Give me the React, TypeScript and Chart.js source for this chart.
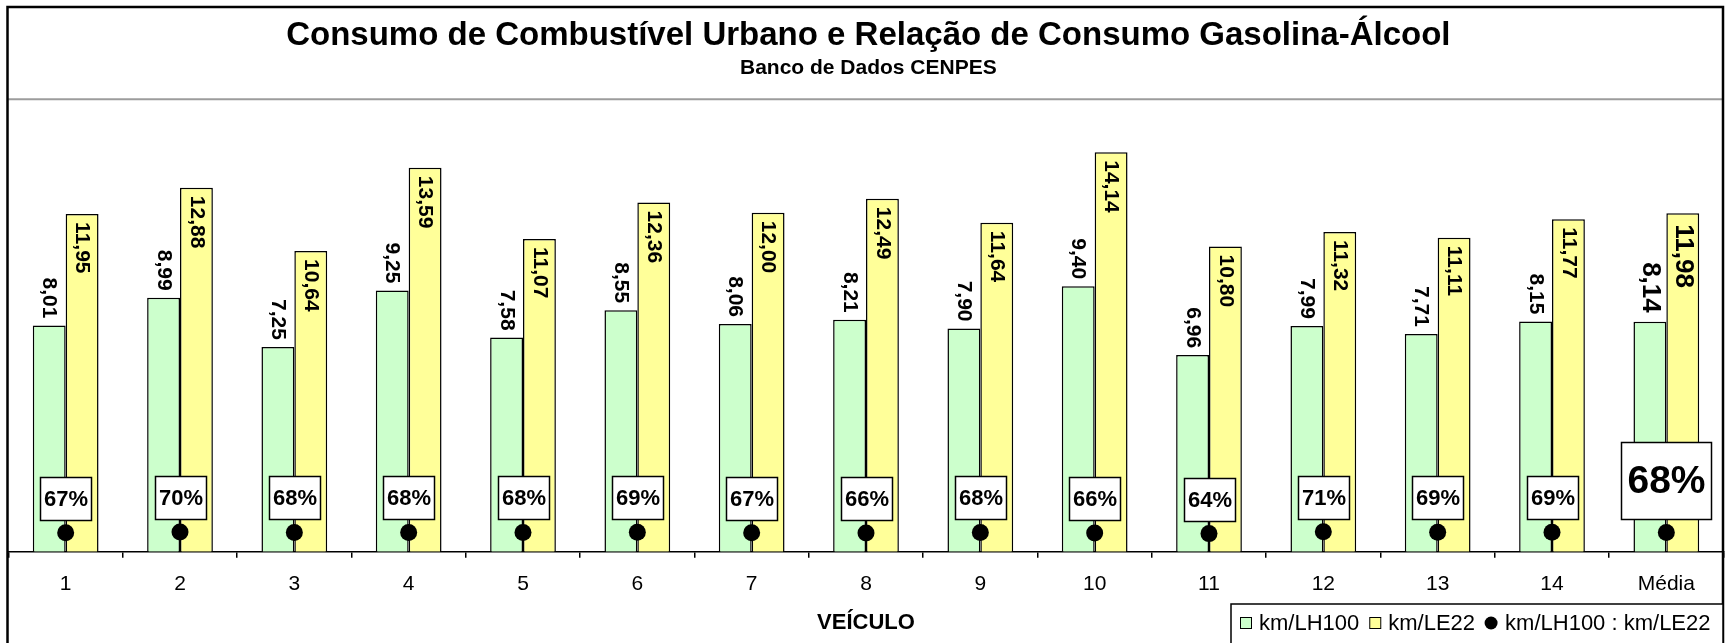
import { useEffect, useRef } from 'react';
import { Chart, registerables } from 'chart.js';

Chart.register(...registerables);

const FONT = "'Liberation Sans', Arial, sans-serif";

const categories = ['1', '2', '3', '4', '5', '6', '7', '8', '9', '10', '11', '12', '13', '14', 'Média'];
const kmLH100 = [8.01, 8.99, 7.25, 9.25, 7.58, 8.55, 8.06, 8.21, 7.9, 9.4, 6.96, 7.99, 7.71, 8.15, 8.14];
const kmLE22 = [11.95, 12.88, 10.64, 13.59, 11.07, 12.36, 12.0, 12.49, 11.64, 14.14, 10.8, 11.32, 11.11, 11.77, 11.98];
const ratio = [0.67, 0.7, 0.68, 0.68, 0.68, 0.69, 0.67, 0.66, 0.68, 0.66, 0.64, 0.71, 0.69, 0.69, 0.68];
const seriesLabels = ['km/LH100', 'km/LE22', 'km/LH100 : km/LE22'];
const yMin = 0;
const yMax = 16;

const GREEN = '#CCFFCC';
const YELLOW = '#FFFF99';

const fmtValue = (v: number) => v.toFixed(2).replace('.', ',');
const fmtPct = (v: number) => Math.round(v * 100) + '%';

const framePlugin = {
  id: 'frame',
  beforeDraw(chart: any) {
    const { ctx, width, height } = chart;
    ctx.save();
    ctx.fillStyle = '#ffffff';
    ctx.fillRect(0, 0, width, height);
    ctx.restore();
  },
  afterDraw(chart: any) {
    const { ctx, chartArea, height } = chart;
    const L = chartArea.left - 1;
    const R = chartArea.right - 0.5;
    ctx.save();
    // separator below title
    ctx.strokeStyle = '#9c9c9c';
    ctx.lineWidth = 2;
    ctx.beginPath();
    ctx.moveTo(L, chartArea.top - 0.5);
    ctx.lineTo(R + 1, chartArea.top - 0.5);
    ctx.stroke();
    // outer frame
    ctx.strokeStyle = '#000';
    ctx.lineWidth = 2.5;
    ctx.beginPath();
    ctx.moveTo(L, height + 5);
    ctx.lineTo(L, 7);
    ctx.lineTo(R, 7);
    ctx.lineTo(R, height + 5);
    ctx.stroke();

    // legend
    const lx = 1231;
    const ly = 604;
    ctx.lineWidth = 1.5;
    ctx.strokeStyle = '#000';
    ctx.fillStyle = '#fff';
    ctx.fillRect(lx, ly, R - lx, height - ly + 5);
    ctx.strokeRect(lx, ly, R - lx, height - ly + 5);
    ctx.font = `22px ${FONT}`;
    ctx.textBaseline = 'alphabetic';
    ctx.textAlign = 'left';
    const baseY = 630;
    const midY = 623;
    let x = lx + 9;
    const ds = chart.data.datasets;
    ds.forEach((d: any) => {
      if (d.type === 'line') {
        ctx.fillStyle = '#000';
        ctx.beginPath();
        ctx.arc(x + 6, midY, 6.5, 0, Math.PI * 2);
        ctx.fill();
        x += 12 + 8;
      } else {
        ctx.fillStyle = d.backgroundColor;
        ctx.fillRect(x + 0.5, midY - 5.5, 11, 11);
        ctx.lineWidth = 1;
        ctx.strokeStyle = '#000';
        ctx.strokeRect(x + 0.5, midY - 5.5, 11, 11);
        x += 11 + 8;
      }
      ctx.fillStyle = '#000';
      ctx.fillText(d.label, x, baseY);
      x += ctx.measureText(d.label).width + 10;
    });
    ctx.restore();
  },
};

const labelsPlugin = {
  id: 'valueLabels',
  afterDatasetsDraw(chart: any) {
    const ctx = chart.ctx;
    const n = categories.length;
    ctx.save();
    ctx.fillStyle = '#000';
    [0, 1].forEach((di) => {
      const meta = chart.getDatasetMeta(di);
      meta.data.forEach((bar: any, i: number) => {
        const avg = i === n - 1;
        const size = avg ? 26 : 21;
        const v = chart.data.datasets[di].data[i] as number;
        ctx.save();
        const y = di === 0 ? bar.y - (avg ? 9 : 7) : bar.y + (avg ? 11 : 8);
        ctx.translate(bar.x, y);
        ctx.rotate(Math.PI / 2);
        ctx.font = `bold ${size}px ${FONT}`;
        ctx.textAlign = di === 0 ? 'right' : 'left';
        ctx.textBaseline = 'middle';
        ctx.fillStyle = '#000';
        ctx.fillText(fmtValue(v), 0, 0);
        ctx.restore();
      });
    });
    const pm = chart.getDatasetMeta(2);
    pm.data.forEach((pt: any, i: number) => {
      const avg = i === n - 1;
      const w = avg ? 90 : 51;
      const h = avg ? 77 : 43;
      const size = avg ? 39 : 22;
      const bottom = Math.round(pt.y - 13) + 0.5;
      const left = Math.round(pt.x - w / 2) + 0.5;
      ctx.fillStyle = '#fff';
      ctx.fillRect(left, bottom - h, w, h);
      ctx.lineWidth = 1.5;
      ctx.strokeStyle = '#000';
      ctx.strokeRect(left, bottom - h, w, h);
      ctx.fillStyle = '#000';
      ctx.font = `bold ${size}px ${FONT}`;
      ctx.textAlign = 'center';
      ctx.textBaseline = 'middle';
      ctx.fillText(fmtPct(chart.data.datasets[2].data[i] as number), left + w / 2, bottom - h / 2 + 1);
    });
    ctx.restore();
  },
};

export default function App() {
  const ref = useRef<HTMLCanvasElement>(null);
  useEffect(() => {
    if (!ref.current) return;
    Chart.defaults.font.family = FONT;
    const chart = new Chart(ref.current, {
      type: 'bar',
      data: {
        labels: categories,
        datasets: [
          {
            type: 'bar',
            label: seriesLabels[0],
            data: kmLH100,
            backgroundColor: GREEN,
            borderColor: '#000',
            borderWidth: 1.5,
            categoryPercentage: 0.575,
            barPercentage: 1,
            order: 1,
          },
          {
            type: 'bar',
            label: seriesLabels[1],
            data: kmLE22,
            backgroundColor: YELLOW,
            borderColor: '#000',
            borderWidth: 1.5,
            categoryPercentage: 0.575,
            barPercentage: 1,
            order: 1,
          },
          {
            type: 'line',
            label: seriesLabels[2],
            data: ratio,
            showLine: false,
            pointRadius: 8.5,
            pointHoverRadius: 8.5,
            pointBackgroundColor: '#000',
            pointBorderColor: '#000',
            pointBorderWidth: 0,
            order: 0,
          },
        ],
      } as any,
      options: {
        animation: false,
        responsive: false,
        devicePixelRatio: 1,
        events: [],
        layout: { padding: { top: 0, left: 8.4, right: 3.7, bottom: 9.1 } },
        plugins: {
          legend: { display: false },
          tooltip: { enabled: false },
          title: {
            display: true,
            text: 'Consumo de Combustível Urbano e Relação de Consumo Gasolina-Álcool',
            color: '#000',
            font: { size: 33, weight: 'bold', family: FONT, lineHeight: 1.2 },
            padding: { top: 15.7, bottom: 0 },
          },
          subtitle: {
            display: true,
            text: 'Banco de Dados CENPES',
            color: '#000',
            font: { size: 21, weight: 'bold', family: FONT, lineHeight: 1 },
            padding: { top: 2, bottom: 21.4 },
          },
        },
        scales: {
          x: {
            offset: true,
            grid: {
              display: true,
              drawOnChartArea: false,
              drawTicks: true,
              tickLength: 6,
              color: '#000',
              offset: true,
              lineWidth: 1.5,
            },
            border: { display: true, color: '#000', width: 1.5 },
            ticks: {
              color: '#000',
              font: { size: 21, family: FONT },
              padding: 14,
              maxRotation: 0,
              autoSkip: false,
            },
            title: {
              display: true,
              text: 'VEÍCULO',
              color: '#000',
              font: { size: 22, weight: 'bold', family: FONT, lineHeight: 1 },
              padding: { top: 1, bottom: 0 },
            },
          },
          y: { display: false, min: yMin, max: yMax },
        },
      } as any,
      plugins: [framePlugin, labelsPlugin],
    });
    return () => chart.destroy();
  }, []);
  return (
    <div style={{ position: 'absolute', left: 0, top: 0, width: 1732, height: 643 }}>
      <canvas ref={ref} width={1732} height={643} style={{ display: 'block', width: 1732, height: 643 }} />
    </div>
  );
}
